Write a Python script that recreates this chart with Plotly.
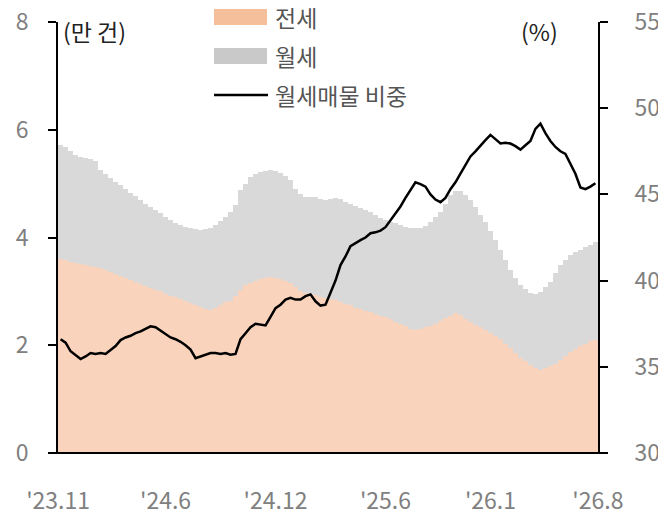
import plotly.graph_objects as go

# stacked listings (10k units) and monthly-rent share (%)
jeonse = [3.61, 3.59, 3.55, 3.53, 3.51, 3.49, 3.47, 3.45, 3.43, 3.39,
          3.36, 3.32, 3.28, 3.25, 3.21, 3.17, 3.14, 3.10, 3.07, 3.03,
          3.00, 2.96, 2.92, 2.89, 2.85, 2.82, 2.78, 2.74, 2.71, 2.68,
          2.65, 2.70, 2.75, 2.80, 2.83, 2.92, 3.02, 3.12, 3.16, 3.19,
          3.23, 3.25, 3.27, 3.25, 3.23, 3.20, 3.16, 3.08, 3.00, 2.97,
          2.95, 2.93, 2.90, 2.88, 2.86, 2.84, 2.81, 2.77, 2.74, 2.70,
          2.67, 2.64, 2.61, 2.58, 2.55, 2.52, 2.48, 2.43, 2.39, 2.35,
          2.30, 2.29, 2.31, 2.33, 2.35, 2.40, 2.45, 2.50, 2.55, 2.60,
          2.56, 2.49, 2.43, 2.38, 2.33, 2.28, 2.23, 2.17, 2.11, 2.03,
          1.94, 1.86, 1.77, 1.70, 1.64, 1.58, 1.54, 1.57, 1.61, 1.66,
          1.73, 1.80, 1.88, 1.93, 1.98, 2.03, 2.07, 2.10]

wolse = [2.10, 2.09, 2.05, 2.00, 1.99, 1.99, 1.99, 1.97, 1.82, 1.78,
         1.74, 1.71, 1.69, 1.65, 1.62, 1.60, 1.56, 1.53, 1.50, 1.48,
         1.45, 1.42, 1.40, 1.38, 1.38, 1.38, 1.40, 1.41, 1.43, 1.48,
         1.53, 1.53, 1.55, 1.58, 1.65, 1.68, 1.86, 1.88, 1.96, 1.98,
         1.98, 1.99, 1.98, 1.98, 1.97, 1.94, 1.90, 1.82, 1.80, 1.78,
         1.81, 1.82, 1.82, 1.82, 1.86, 1.89, 1.91, 1.89, 1.89, 1.89,
         1.88, 1.87, 1.86, 1.83, 1.81, 1.81, 1.81, 1.83, 1.84, 1.85,
         1.88, 1.89, 1.87, 1.89, 1.94, 1.98, 2.02, 2.12, 2.24, 2.26,
         2.31, 2.30, 2.26, 2.18, 2.08, 2.00, 1.89, 1.78, 1.65, 1.55,
         1.45, 1.39, 1.35, 1.34, 1.33, 1.38, 1.45, 1.51, 1.57, 1.68,
         1.76, 1.79, 1.80, 1.80, 1.79, 1.79, 1.79, 1.81]

share = [36.6, 36.4, 35.9, 35.7, 35.45, 35.6, 35.8, 35.75, 35.8, 35.75,
         36.0, 36.2, 36.55, 36.7, 36.8, 36.95, 37.05, 37.2, 37.35, 37.3,
         37.1, 36.95, 36.7, 36.6, 36.45, 36.25, 36.0, 35.5, 35.6, 35.7,
         35.8, 35.8, 35.75, 35.8, 35.7, 35.75, 36.6, 36.95, 37.3, 37.5,
         37.45, 37.4, 37.9, 38.4, 38.6, 38.9, 39.0, 38.9, 38.9, 39.1,
         39.2, 38.8, 38.55, 38.6, 39.3, 40.0, 40.9, 41.4, 42.0, 42.2,
         42.35, 42.5, 42.75, 42.8, 42.9, 43.1, 43.5, 43.9, 44.3, 44.8,
         45.25, 45.7, 45.6, 45.45, 45.0, 44.7, 44.55, 44.8, 45.3, 45.7,
         46.2, 46.7, 47.2, 47.5, 47.85, 48.15, 48.45, 48.2, 47.95, 48.0,
         47.95, 47.8, 47.6, 47.85, 48.1, 48.8, 49.1, 48.55, 48.1, 47.75,
         47.5, 47.35, 46.8, 46.2, 45.4, 45.3, 45.45, 45.65]

tick_labels = ["'23.11", "'24.6", "'24.12", "'25.6", "'26.1", "'26.8"]
tick_pos = [-0.5, 21, 43, 65, 86, 107.5]

x = list(range(len(jeonse)))
font = "Noto Sans CJK KR"
grey = "#808080"

fig = go.Figure()
fig.add_trace(go.Bar(x=x, y=jeonse, name="전세", marker_color="#F9D3BB",
                     marker_line_width=0))
fig.add_trace(go.Bar(x=x, y=wolse, name="월세", marker_color="#D9D9D9",
                     marker_line_width=0))
fig.add_trace(go.Scatter(x=x, y=share, name="월세매물 비중", yaxis="y2",
                         mode="lines", line=dict(color="black", width=2.5)))

# the page body adds 8px on the left/top, so margins are trimmed to match
fig.update_layout(
    width=666, height=520,
    margin=dict(l=50, r=76, t=14, b=75),
    barmode="stack", bargap=0.12,
    plot_bgcolor="white", paper_bgcolor="white",
    showlegend=False,
    font=dict(family=font, color=grey, size=23),
    xaxis=dict(range=[-0.52, 107.52], tickvals=tick_pos, ticktext=tick_labels,
               showgrid=False, zeroline=False, showline=False, ticks="",
               automargin=False, ticklabeloverflow="allow",
               ticklabelstandoff=32, tickfont=dict(size=23, color=grey)),
    yaxis=dict(range=[0, 8], dtick=2, showgrid=False, zeroline=False,
               showline=True, linecolor="black", linewidth=2,
               ticks="outside", ticklen=8, tickwidth=2, tickcolor="black",
               automargin=False, ticklabeloverflow="allow",
               ticklabelstandoff=15, tickfont=dict(size=23, color=grey)),
    yaxis2=dict(range=[30, 55], dtick=5, overlaying="y", side="right",
                showgrid=False, zeroline=False, showline=True,
                linecolor="black", linewidth=2, ticks="outside", ticklen=8,
                tickwidth=2, tickcolor="black", ticklabelstandoff=22,
                automargin=False, ticklabeloverflow="allow",
                tickfont=dict(size=23, color=grey)),
)

# bottom axis line, running under both tick stubs
fig.add_shape(type="line", xref="paper", yref="paper", x0=-0.017, x1=1.015,
              y0=0, y1=0, line=dict(color="black", width=2))

# unit labels
fig.add_annotation(text="(만 건)", xref="paper", yref="paper", x=0.005, y=0.979,
                   xanchor="left", yanchor="middle", showarrow=False,
                   font=dict(size=23, color="#222222"))
fig.add_annotation(text="(%)", xref="paper", yref="paper", x=0.93, y=0.979,
                   xanchor="right", yanchor="middle", showarrow=False,
                   font=dict(size=23, color="#222222"))

# hand-drawn legend
legend_items = [("rect", "#F5BF9B", "전세", 17),
                ("rect", "#C9C9C9", "월세", 56),
                ("line", "black", "월세매물 비중", 95)]
for kind, color, label, py in legend_items:
    yc = 1 - (py - 22) / 431
    if kind == "rect":
        fig.add_shape(type="rect", xref="paper", yref="paper",
                      x0=(214 - 58) / 540, x1=(267 - 58) / 540,
                      y0=yc - 8 / 431, y1=yc + 8 / 431,
                      fillcolor=color, line_width=0)
    else:
        fig.add_shape(type="line", xref="paper", yref="paper",
                      x0=(214 - 58) / 540, x1=(268 - 58) / 540,
                      y0=yc, y1=yc, line=dict(color=color, width=2.5))
    fig.add_annotation(text=label, xref="paper", yref="paper",
                       x=(273 - 58) / 540, y=yc, xanchor="left",
                       yanchor="middle", showarrow=False,
                       font=dict(size=23, color="#555555"))

fig.write_html("out.html")
